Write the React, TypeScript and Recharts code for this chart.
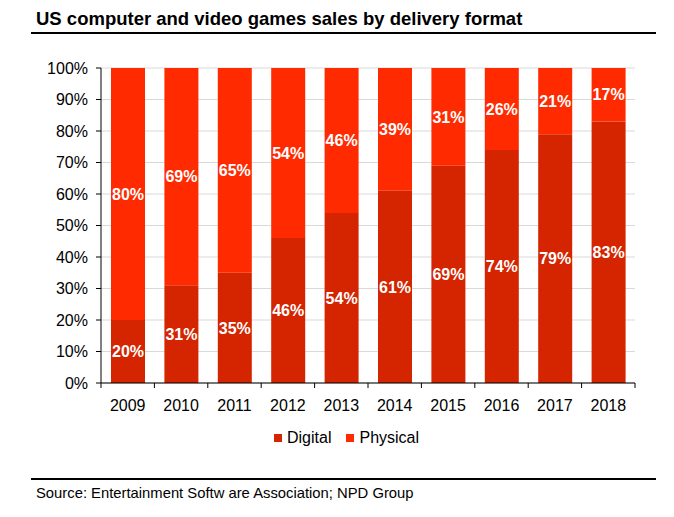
import { BarChart, Bar, XAxis, YAxis, CartesianGrid, LabelList } from 'recharts'

const years = ['2009', '2010', '2011', '2012', '2013', '2014', '2015', '2016', '2017', '2018']
const digital = [20, 31, 35, 46, 54, 61, 69, 74, 79, 83]
const physical = [80, 69, 65, 54, 46, 39, 31, 26, 21, 17]
const yTicks = [0, 10, 20, 30, 40, 50, 60, 70, 80, 90, 100]

const data = years.map((year, i) => ({ year, digital: digital[i], physical: physical[i] }))

const FONT = 'Arial, "Liberation Sans", sans-serif'
const DIGITAL = '#d42400'
const PHYSICAL = '#ff2a00'

const PLOT_LEFT = 101
const PLOT_RIGHT = 635
const PLOT_BOTTOM = 383
const BAND = (PLOT_RIGHT - PLOT_LEFT) / years.length

const legendItems = [
  { name: 'Digital', color: DIGITAL },
  { name: 'Physical', color: PHYSICAL },
]

function YearTick(props: any) {
  const { x, payload, index } = props
  return (
    <g>
      <line x1={x - BAND / 2} x2={x - BAND / 2} y1={PLOT_BOTTOM} y2={PLOT_BOTTOM + 5} stroke="#000" />
      {index === years.length - 1 && (
        <line x1={x + BAND / 2} x2={x + BAND / 2} y1={PLOT_BOTTOM} y2={PLOT_BOTTOM + 5} stroke="#000" />
      )}
      <text x={x} y={PLOT_BOTTOM + 28} textAnchor="middle" fill="#000" fontSize={16} fontFamily={FONT}>
        {payload.value}
      </text>
    </g>
  )
}

export default function App() {
  return (
    <div style={{ position: 'absolute', left: 0, top: 0, width: 674, height: 517, background: '#fff', fontFamily: FONT }}>
      <div style={{ position: 'absolute', left: 36, top: 8, fontSize: 18.5, fontWeight: 'bold', color: '#000', whiteSpace: 'nowrap' }}>
        US computer and video games sales by delivery format
      </div>
      <div style={{ position: 'absolute', left: 31, top: 32, width: 625, height: 2, background: '#000' }} />

      <BarChart
        width={674}
        height={517}
        data={data}
        barSize={34}
        margin={{ top: 68, right: 674 - PLOT_RIGHT, bottom: 517 - PLOT_BOTTOM - 30, left: 0 }}
      >
        <CartesianGrid vertical={false} stroke="#d9d9d9" />
        <XAxis
          dataKey="year"
          tickLine={false}
          axisLine={{ stroke: '#000' }}
          height={30}
          tick={<YearTick />}
          interval={0}
        />
        <YAxis
          width={PLOT_LEFT}
          domain={[0, 100]}
          ticks={yTicks}
          tickFormatter={(v: number) => `${v}%`}
          axisLine={{ stroke: '#000' }}
          tickLine={{ stroke: '#000' }}
          tickSize={5}
          tickMargin={8}
          tick={{ fill: '#000', fontSize: 16, fontFamily: FONT }}
        />
        <Bar dataKey="digital" name="Digital" stackId="a" fill={DIGITAL} isAnimationActive={false}>
          <LabelList
            dataKey="digital"
            position="center"
            formatter={(v: any) => `${v}%`}
            fill="#fff"
            fontSize={16}
            fontWeight="bold"
            fontFamily={FONT}
          />
        </Bar>
        <Bar dataKey="physical" name="Physical" stackId="a" fill={PHYSICAL} isAnimationActive={false}>
          <LabelList
            dataKey="physical"
            position="center"
            formatter={(v: any) => `${v}%`}
            fill="#fff"
            fontSize={16}
            fontWeight="bold"
            fontFamily={FONT}
          />
        </Bar>
      </BarChart>

      <div style={{ position: 'absolute', left: 274, top: 429, display: 'flex', fontSize: 16, color: '#000' }}>
        {legendItems.map((item) => (
          <div key={item.name} style={{ display: 'flex', alignItems: 'center', marginRight: 15 }}>
            <span style={{ width: 8, height: 8, background: item.color, marginRight: 5, display: 'inline-block' }} />
            {item.name}
          </div>
        ))}
      </div>

      <div style={{ position: 'absolute', left: 31, top: 478, width: 625, height: 2, background: '#000' }} />
      <div style={{ position: 'absolute', left: 36, top: 485, fontSize: 14.8, color: '#000', whiteSpace: 'nowrap' }}>
        Source: Entertainment Softw are Association; NPD Group
      </div>
    </div>
  )
}
